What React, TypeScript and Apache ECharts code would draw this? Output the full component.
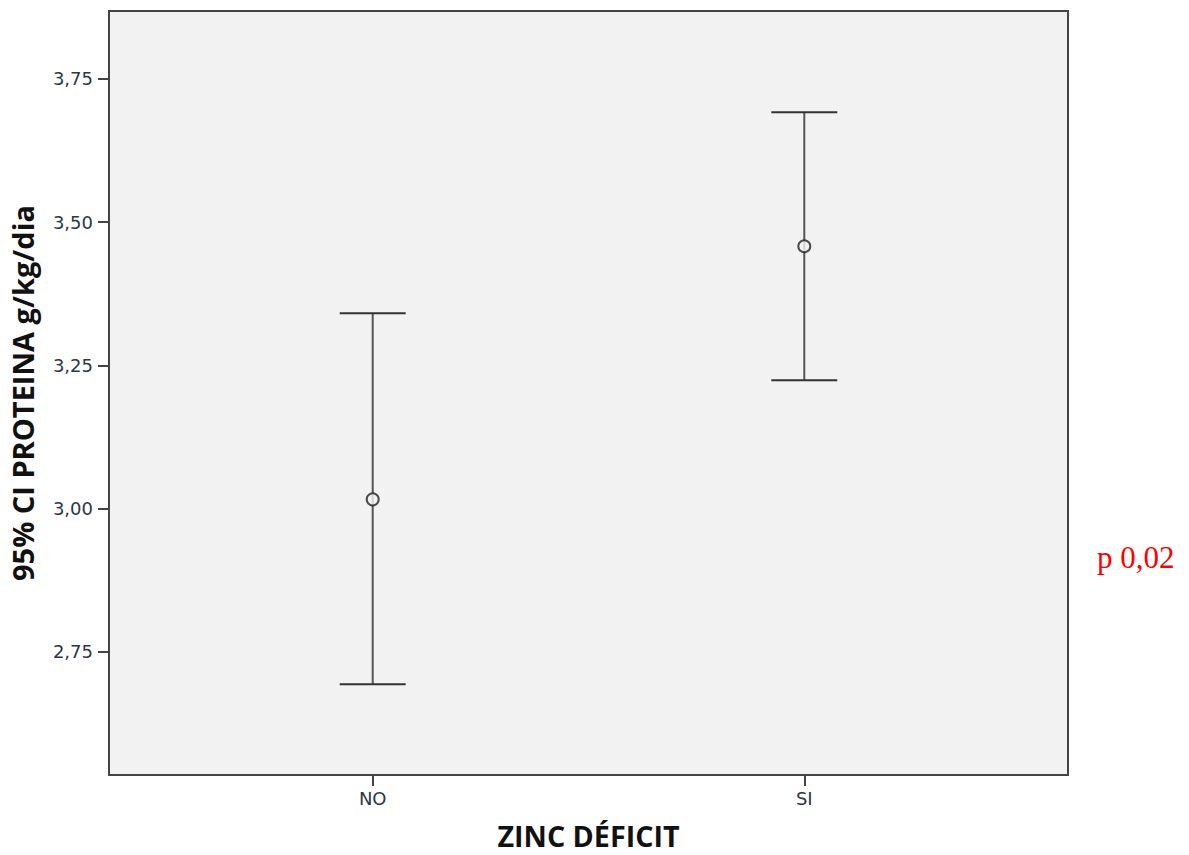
import React, { useEffect, useRef } from "react";
import * as echarts from "echarts";

const categories = ["NO", "SI"];
const means = [3.016, 3.458];
const lowerCI = [2.693, 3.224];
const upperCI = [3.341, 3.692];
const yTicks = [2.75, 3.0, 3.25, 3.5, 3.75];
const xTitle = "ZINC DÉFICIT";
const yTitle = "95% CI PROTEINA g/kg/dia";
const pValueText = "p 0,02";

export default function App() {
  const ref = useRef<HTMLDivElement>(null);
  useEffect(() => {
    const chart = echarts.init(ref.current as HTMLDivElement, null, { renderer: "svg" });
    const positions = categories.map((_, i) => i + 1);
    const ciData = categories.map((_, i) => [positions[i], lowerCI[i], upperCI[i]]);
    const meanData = categories.map((_, i) => [positions[i], means[i]]);
    const labelStyle = { color: "#2e3646", fontSize: 18, fontFamily: "'DejaVu Sans', sans-serif" };
    const titleBase = { color: "#111", fontWeight: "bold", fontFamily: "'Open Sans', sans-serif" };
    chart.setOption({
      animation: false,
      backgroundColor: "#ffffff",
      grid: {
        left: 109, right: 121, top: 11, bottom: 80,
        outerBoundsMode: "none",
        containLabel: false,
        show: true, backgroundColor: "#f2f2f2", borderColor: "#444", borderWidth: 2,
      },
      xAxis: {
        type: "value", min: 0.389, max: 2.611,
        splitLine: { show: false },
        axisLine: { show: true, lineStyle: { color: "#444", width: 2 } },
        axisTick: { show: true, length: 11, customValues: positions, lineStyle: { color: "#444", width: 2 } },
        axisLabel: {
          customValues: positions, margin: 14, ...labelStyle,
          formatter: (v: number) => categories[Math.round(v) - 1] ?? "",
        },
        name: xTitle, nameLocation: "middle", nameGap: 46, nameTextStyle: { ...titleBase, fontSize: 28.7 },
      },
      yAxis: {
        type: "value", min: 2.5347, max: 3.8687,
        splitLine: { show: false },
        axisLine: { show: true, lineStyle: { color: "#444", width: 2 } },
        axisTick: { show: true, length: 11, customValues: yTicks, lineStyle: { color: "#444", width: 2 } },
        axisLabel: {
          customValues: yTicks, margin: 16, ...labelStyle,
          formatter: (v: number) => v.toFixed(2).replace(".", ","),
        },
        name: yTitle, nameLocation: "middle", nameGap: 72, nameRotate: 90, nameTextStyle: { ...titleBase, fontSize: 29 },
      },
      series: [
        {
          type: "custom",
          data: ciData,
          encode: { x: 0, y: [1, 2] },
          z: 2,
          renderItem: (params: any, api: any) => {
            const x = api.value(0);
            const lo = api.coord([x, api.value(1)]);
            const hi = api.coord([x, api.value(2)]);
            const hw = 33;
            return {
              type: "group",
              children: [
                { type: "line", shape: { x1: lo[0], y1: lo[1], x2: hi[0], y2: hi[1] }, style: { stroke: "#555", lineWidth: 2 } },
                { type: "line", shape: { x1: hi[0] - hw, y1: hi[1], x2: hi[0] + hw, y2: hi[1] }, style: { stroke: "#333", lineWidth: 2 } },
                { type: "line", shape: { x1: lo[0] - hw, y1: lo[1], x2: lo[0] + hw, y2: lo[1] }, style: { stroke: "#333", lineWidth: 2 } },
              ],
            };
          },
        },
        {
          type: "scatter",
          data: meanData,
          symbol: "circle",
          symbolSize: 12,
          z: 3,
          itemStyle: { color: "#f2f2f2", borderColor: "#222", borderWidth: 2 },
        },
      ],
      graphic: [
        {
          type: "text",
          style: {
            x: 1097, y: 557, text: pValueText, fill: "#ff0000",
            fontSize: 31, fontFamily: "'Liberation Serif', serif", verticalAlign: "middle",
          },
        },
      ],
    });
    return () => chart.dispose();
  }, []);
  return <div ref={ref} style={{ position: "fixed", left: 0, top: 0, width: 1189, height: 855 }} />;
}
